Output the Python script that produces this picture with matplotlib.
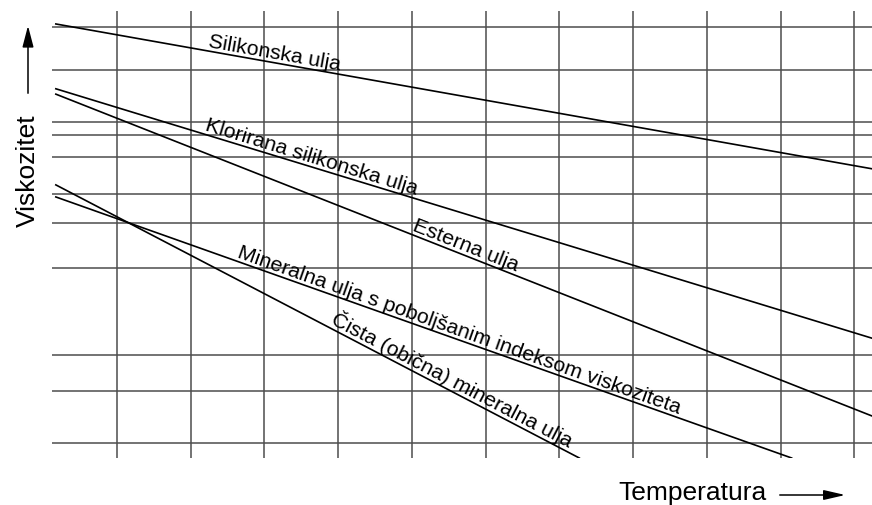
import numpy as np
import matplotlib
matplotlib.use("Agg")
import matplotlib.pyplot as plt

plt.rcParams['font.family'] = ['Liberation Sans', 'DejaVu Sans']

# grid positions (temperature / viscosity, arbitrary units)
x_grid = [1, 2, 3, 4, 5, 6, 7, 8, 9, 10, 11]
y_grid = [9.64, 8.68, 7.52, 7.23, 6.73, 5.91, 5.26, 4.25, 2.30, 1.50, 0.34]

# oil types: straight lines (start, end)
oil_names = ['Silikonska ulja',
             'Klorirana silikonska ulja',
             'Esterna ulja',
             'Mineralna ulja s poboljšanim indeksom viskoziteta',
             'Čista (obična) mineralna ulja']
line_x = [[0.17, 11.24], [0.17, 11.24], [0.17, 11.24], [0.17, 10.15], [0.17, 7.27]]
line_y = [[9.71, 6.47], [8.26, 2.68], [8.14, 0.94], [5.84, 0.0], [6.11, 0.0]]

# where each label starts along its line
label_x = [2.22, 2.16, 4.97, 2.60, 3.86]

fig = plt.figure(figsize=(8.72, 5.06), dpi=100)
ax = fig.add_axes([52/872, 47/506, 820/872, 447/506])
ax.set_xlim(0.118, 11.24)
ax.set_ylim(0, 10)
for s in ax.spines.values():
    s.set_visible(False)
ax.set_xticks([])
ax.set_yticks([])

for xg in x_grid:
    ax.axvline(xg, color='#4d4d4d', lw=1.1, zorder=1)
for yg in y_grid:
    ax.axhline(yg, color='#4d4d4d', lw=1.1, zorder=1)

fig.canvas.draw()
for name, xs, ys, lx in zip(oil_names, line_x, line_y, label_x):
    ax.plot(xs, ys, color='black', lw=1.2, zorder=2, clip_on=True)
    ly = np.interp(lx, xs, ys)
    # angle of the line on screen; baseline sits a few points off the line
    p0, p1 = ax.transData.transform([(xs[0], ys[0]), (xs[1], ys[1])])
    sa = np.arctan2(p1[1] - p0[1], p1[0] - p0[0])
    d = 3.2
    ax.annotate(name, (lx, ly), xytext=(-np.sin(sa) * d, np.cos(sa) * d),
                textcoords='offset points', rotation=np.degrees(sa),
                rotation_mode='anchor', ha='left', va='baseline',
                fontsize=15.3, zorder=3)

# axis titles with arrows
fig.text(28/872, 1 - 171/506, 'Viskozitet', rotation=90, ha='center', va='center', fontsize=19)
fig.text(692/872, 1 - 493/506, 'Temperatura', ha='center', va='center', fontsize=19)
fig.add_artist(matplotlib.patches.FancyArrowPatch(
    (28/872, 1 - 97/506), (28/872, 1 - 24/506), transform=fig.transFigure,
    arrowstyle='-|>,head_length=0.65,head_width=0.17', mutation_scale=20,
    color='black', lw=1.1))
fig.add_artist(matplotlib.patches.FancyArrowPatch(
    (777/872, 1 - 496/506), (848/872, 1 - 496/506), transform=fig.transFigure,
    arrowstyle='-|>,head_length=0.65,head_width=0.15', mutation_scale=20,
    color='black', lw=1.1))

fig.savefig('out.png', dpi=100)
